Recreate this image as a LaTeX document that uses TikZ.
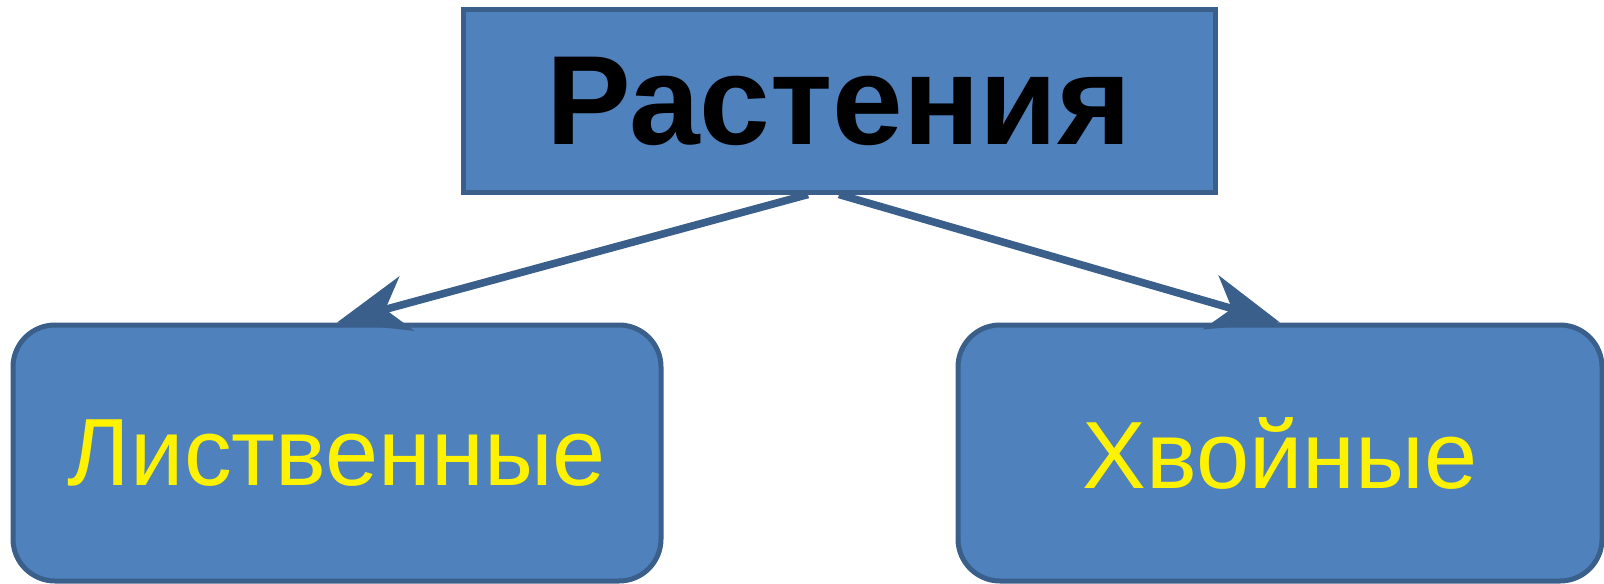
\documentclass[tikz,border=0pt]{standalone}
\usepackage{fontspec}
\setmainfont{Liberation Sans}
\usetikzlibrary{arrows.meta}
\definecolor{boxfill}{HTML}{4F81BD}
\definecolor{boxline}{HTML}{3A5F8B}

\begin{document}
\begin{tikzpicture}[x=0.5pt, y=-0.5pt,
  topbox/.style={draw=boxline, line width=2.5pt, fill=boxfill, minimum width=376pt, minimum height=91pt, inner sep=0pt},
  leafbox/.style={draw=boxline, line width=2.5pt, fill=boxfill, rounded corners=21pt, minimum height=128pt, inner sep=0pt, text=yellow, font=\fontsize{47.8}{50}\selectfont},
  link/.style={draw=boxline, line width=3.8pt, -{Stealth[length=36pt, width=28pt, inset=11pt]}}]
\useasboundingbox (0,0) rectangle (1604,583);
\node [topbox, font=\fontsize{63.5}{66}\bfseries] (plants) at (839,101) {Растения};
\node [leafbox, minimum width=324pt] (leafy) at (337,453) {Лиственные};
\node [leafbox, minimum width=322pt] (conifer) at (1280,453) {Хвойные};
\draw [link] ([xshift=-15.5pt]plants.south) -- (leafy.north);
\draw [link] (plants.south) -- (conifer.north);
\end{tikzpicture}
\end{document}
